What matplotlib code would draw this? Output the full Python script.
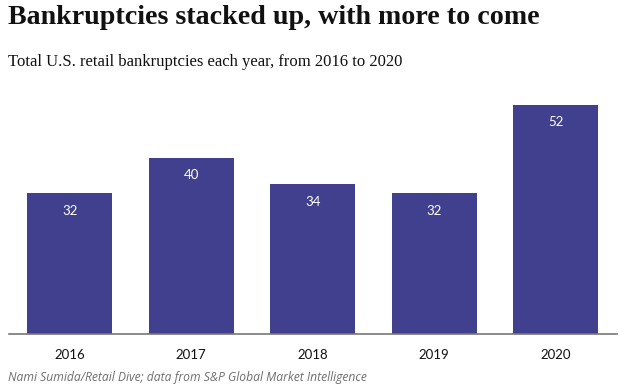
import numpy as np
import matplotlib
matplotlib.use("Agg")
import matplotlib.pyplot as plt

# data
years = ["2016", "2017", "2018", "2019", "2020"]
bankruptcies = [32, 40, 34, 32, 52]

bar_color = "#40408e"

fig = plt.figure(figsize=(6.32, 3.92), dpi=100)
W, H = 632, 392

# axes placed in pixel terms: x 9..616, baseline at y=334, 52 reaches y=105
ax = fig.add_axes([9 / W, 1 - 334 / H, 607.5 / W, 229 / H])

x = np.arange(len(years))
bars = ax.bar(x, bankruptcies, width=0.7, color=bar_color, zorder=2)

for xi, v in zip(x, bankruptcies):
    ax.text(xi, v - 2.6, str(v), ha="center", va="top", color="white",
            fontsize=9.5, family="Lato")

ax.set_xlim(-0.5, 4.5)
ax.set_ylim(0, 52)
ax.set_yticks([])
ax.set_xticks(x)
ax.set_xticklabels(years, fontsize=9.5, family="Lato", color="#111111")
ax.tick_params(axis="x", length=0, pad=11)
for s in ["top", "right", "left"]:
    ax.spines[s].set_visible(False)
ax.spines["bottom"].set_color("#777777")
ax.spines["bottom"].set_linewidth(1.2)

# title, subtitle, source
fig.text(8 / W, 1 - 17 / H, "Bankruptcies stacked up, with more to come",
         fontsize=20.2, fontweight="bold", family="Liberation Serif",
         ha="left", va="center", color="#111111")
fig.text(8 / W, 1 - 62 / H, "Total U.S. retail bankruptcies each year, from 2016 to 2020",
         fontsize=12, family="Liberation Serif", ha="left", va="center",
         color="#111111")
fig.text(8 / W, 1 - 377 / H, "Nami Sumida/Retail Dive; data from S&P Global Market Intelligence",
         fontsize=8.75, style="italic", family="Open Sans", ha="left", va="center",
         color="#6e6e6e")

fig.savefig("out.png", dpi=100)
